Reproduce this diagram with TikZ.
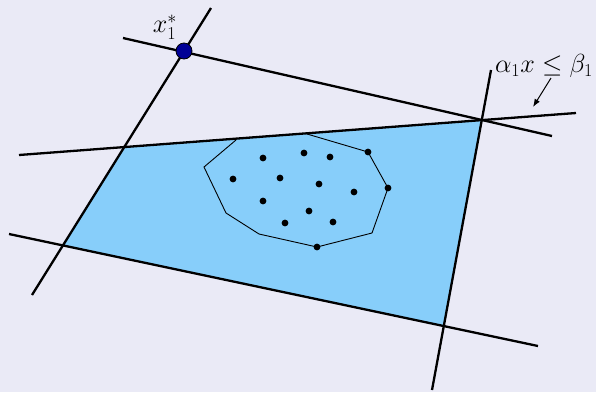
\documentclass[tikz,border=0pt]{standalone}
\usepackage{amsmath,amssymb}
\usetikzlibrary{arrows.meta}
\definecolor{slidebg}{RGB}{234,234,246}
\definecolor{feasfill}{RGB}{135,206,250}
\definecolor{optblue}{RGB}{0,0,150}

\begin{document}
\begin{tikzpicture}[x=1pt,y=-1pt,
    bnd/.style={line width=2.3pt},
    hull/.style={line width=0.9pt},
    pt/.style={circle, fill=black, inner sep=0pt, minimum size=6.8pt},
    optpt/.style={circle, draw=black, fill=optblue, inner sep=0pt, minimum size=16pt, line width=0.8pt},
    lbl/.style={font=\fontsize{25}{30}\selectfont, inner sep=0pt, scale=1.05},
    arr/.style={-{Latex[length=8pt,width=6pt]}, line width=1pt}
]
\fill[slidebg] (0,0) rectangle (596,392);
\useasboundingbox (0,0) rectangle (596,392);

\coordinate (A) at (124,147);
\coordinate (B) at (482,120);
\coordinate (C) at (444,326);
\coordinate (D) at (63,245);
\fill[feasfill] (A) -- (B) -- (C) -- (D) -- cycle;

\draw[hull] (236,140) -- (204,167) -- (226,213) -- (259,234) -- (317,247)
    -- (372,233) -- (388,188) -- (368,152) -- (307,134);
\foreach \p in {(263,158),(304,153),(330,157),(368,152),(233,179),(280,178),
    (319,184),(354,192),(388,188),(263,201),(309,211),(285,223),(333,222),(317,247)}
    \node[pt] at \p {};

\draw[bnd] (19,155) -- (576,113);
\draw[bnd] (123,38) -- (552,136);
\draw[bnd] (32,295) -- (211,8);
\draw[bnd] (491,70) -- (432,390);
\draw[bnd] (9,234) -- (538,346);

\node[optpt] (xopt) at (184,51) {};
\node[lbl] (xlbl) at (165,27) {$x_1^*$};

\node[lbl, anchor=west] (cons) at (495,66) {$\alpha_1 x \leq \beta_1$};
\coordinate (tail) at (551,78);
\coordinate (tip) at (533,107);
\draw[arr] (tail) -- (tip);
\end{tikzpicture}
\end{document}
